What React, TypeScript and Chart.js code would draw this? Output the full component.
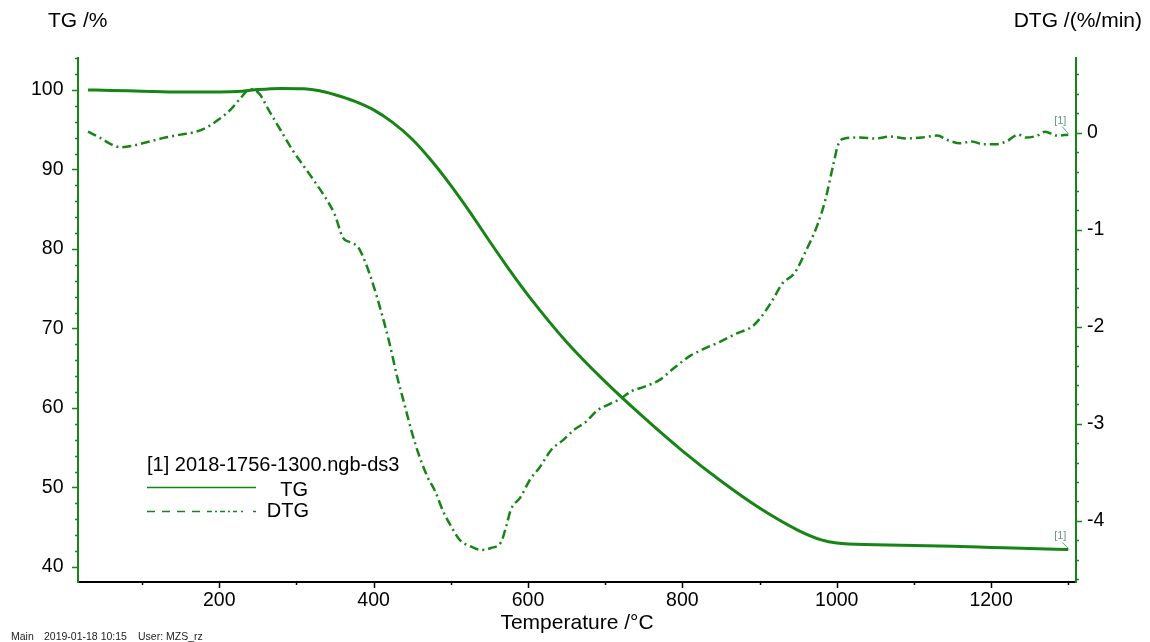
import React, { useEffect, useRef } from 'react';
import { Chart, registerables } from 'chart.js';

Chart.register(...registerables);

const FONT = '"Liberation Sans", Arial, Helvetica, sans-serif';
const GREEN = '#168516';
const MARK = '#5f9e77';

// TG curve (mass %, left axis)
const tgTemp = [30, 60, 100, 150, 200, 230, 250, 280, 310, 330, 350, 375, 400, 425, 450, 475, 500, 525, 550, 575, 600, 650, 700, 750, 800, 850, 900, 950, 980, 1000, 1050, 1100, 1150, 1200, 1250, 1300];
const tgMass = [100.0, 99.95, 99.85, 99.75, 99.75, 99.85, 100.05, 100.2, 100.15, 99.9, 99.4, 98.6, 97.5, 95.9, 93.8, 91.1, 88.0, 84.6, 81.0, 77.5, 74.2, 68.3, 63.3, 58.8, 54.6, 50.8, 47.4, 44.6, 43.4, 43.0, 42.8, 42.7, 42.6, 42.45, 42.3, 42.2];

// DTG curve (%/min, right axis)
const dtgTemp = [30, 45, 60, 72, 90, 110, 130, 150, 170, 185, 200, 215, 228, 240, 252, 265, 280, 295, 310, 325, 340, 350, 360, 370, 380, 390, 400, 410, 420, 430, 440, 450, 460, 470, 480, 490, 500, 512, 525, 540, 552, 565, 572, 578, 590, 603, 615, 630, 645, 660, 675, 690, 705, 720, 735, 750, 770, 790, 810, 830, 850, 870, 890, 900, 915, 930, 945, 960, 975, 985, 995, 1002, 1010, 1030, 1050, 1070, 1090, 1110, 1130, 1145, 1160, 1175, 1190, 1205, 1220, 1235, 1245, 1260, 1270, 1285, 1300];
const dtgRate = [0.01, -0.05, -0.12, -0.15, -0.13, -0.09, -0.05, -0.02, 0.01, 0.06, 0.14, 0.24, 0.36, 0.45, 0.40, 0.22, 0.02, -0.18, -0.35, -0.52, -0.70, -0.85, -1.08, -1.13, -1.18, -1.35, -1.58, -1.85, -2.15, -2.50, -2.80, -3.10, -3.35, -3.55, -3.70, -3.90, -4.05, -4.20, -4.26, -4.30, -4.28, -4.22, -4.05, -3.88, -3.76, -3.57, -3.45, -3.27, -3.17, -3.06, -2.98, -2.86, -2.80, -2.74, -2.66, -2.62, -2.55, -2.42, -2.30, -2.22, -2.15, -2.07, -2.00, -1.92, -1.75, -1.55, -1.45, -1.22, -0.95, -0.70, -0.35, -0.12, -0.06, -0.05, -0.06, -0.04, -0.06, -0.05, -0.03, -0.08, -0.11, -0.09, -0.12, -0.12, -0.09, -0.02, -0.05, -0.03, 0.01, -0.03, -0.02];

const xTickStep = 200;
const leftTickStep = 10;
const rightTickStep = 1;

const legendTitle = '[1] 2018-1756-1300.ngb-ds3';
const footer = ['Main', '2019-01-18 10:15', 'User: MZS_rz'];

const fmt = (v: number) => String(Math.round(v));

const decorPlugin = {
  id: 'decor',
  afterDraw(chart: any) {
    const { ctx, chartArea: ca, scales } = chart;
    const x = scales.x;
    const yl = scales.yTG;
    const yr = scales.yDTG;
    const line = (x1: number, y1: number, x2: number, y2: number) => {
      ctx.beginPath();
      ctx.moveTo(x1, y1);
      ctx.lineTo(x2, y2);
      ctx.stroke();
    };
    ctx.save();
    ctx.lineCap = 'butt';
    // axis lines
    ctx.lineWidth = 2;
    ctx.strokeStyle = '#000';
    line(ca.left, ca.bottom, ca.right, ca.bottom);
    ctx.strokeStyle = GREEN;
    line(ca.left, ca.top, ca.left, ca.bottom + 1);
    line(ca.right, ca.top, ca.right, ca.bottom + 1);
    // x ticks
    ctx.lineWidth = 1.5;
    ctx.strokeStyle = '#000';
    for (let v = 100; v <= 1300; v += 100) {
      const px = Math.round(x.getPixelForValue(v)) + 0.5;
      const len = v % 200 === 0 ? 6 : 3;
      line(px, ca.bottom, px, ca.bottom + len);
    }
    // left ticks
    ctx.strokeStyle = GREEN;
    for (let v = 40; v <= 104; v += 2) {
      const py = Math.round(yl.getPixelForValue(v)) + 0.5;
      const len = v % 10 === 0 ? 6 : 3;
      line(ca.left, py, ca.left - len, py);
    }
    // right ticks
    for (let i = -23; i <= 3; i++) {
      const v = i * 0.2;
      const py = Math.round(yr.getPixelForValue(v)) + 0.5;
      const len = i % 5 === 0 ? 6 : 3;
      line(ca.right, py, ca.right + len, py);
    }

    // axis titles
    ctx.fillStyle = '#000';
    ctx.font = `21px ${FONT}`;
    ctx.textBaseline = 'middle';
    ctx.textAlign = 'left';
    ctx.fillText('TG /%', 48, 21);
    ctx.textAlign = 'right';
    ctx.fillText('DTG /(%/min)', 1142, 21);
    ctx.textAlign = 'center';
    ctx.fillText('Temperature /°C', (ca.left + ca.right) / 2, 623);

    // legend
    ctx.font = `20px ${FONT}`;
    ctx.textAlign = 'left';
    ctx.fillText(legendTitle, 147, 465);
    ctx.textAlign = 'right';
    ctx.fillText('TG', 308, 490);
    ctx.fillText('DTG', 309, 511);
    ctx.strokeStyle = GREEN;
    ctx.lineWidth = 1.6;
    line(147, 487.5, 256, 487.5);
    ctx.setLineDash([8, 7, 8, 7, 8, 7, 8, 7, 5, 3, 2, 3, 5, 3, 2, 3, 4, 4, 2, 10]);
    line(147, 511.5, 256, 511.5);
    ctx.setLineDash([]);

    // end markers [1]
    ctx.font = `11px ${FONT}`;
    ctx.fillStyle = MARK;
    ctx.strokeStyle = MARK;
    ctx.lineWidth = 1;
    ctx.textAlign = 'center';
    chart.data.datasets.forEach((ds: any, i: number) => {
      const meta = chart.getDatasetMeta(i);
      const pt = meta.data[meta.data.length - 1];
      if (!pt) return;
      const dy = i === 0 ? 13 : 14;
      ctx.fillText('[1]', pt.x - 8, pt.y - dy);
      line(pt.x - 6, pt.y - dy + 6, pt.x, pt.y - 1);
    });

    // footer
    ctx.font = `10.5px ${FONT}`;
    ctx.fillStyle = '#222';
    ctx.textAlign = 'left';
    ctx.textBaseline = 'alphabetic';
    ctx.fillText(footer[0], 11, 640);
    ctx.fillText(footer[1], 44, 640);
    ctx.fillText(footer[2], 138, 640);
    ctx.restore();
  },
};

export default function App() {
  const ref = useRef<HTMLCanvasElement | null>(null);
  useEffect(() => {
    if (!ref.current) return;
    const tgData = tgTemp.map((t, i) => ({ x: t, y: tgMass[i] }));
    const dtgData = dtgTemp.map((t, i) => ({ x: t, y: dtgRate[i] }));
    const chart = new Chart(ref.current, {
      type: 'line',
      data: {
        datasets: [
          {
            label: 'TG',
            data: tgData,
            yAxisID: 'yTG',
            borderColor: GREEN,
            borderWidth: 3,
            pointRadius: 0,
            cubicInterpolationMode: 'monotone',
            fill: false,
          },
          {
            label: 'DTG',
            data: dtgData,
            yAxisID: 'yDTG',
            borderColor: GREEN,
            borderWidth: 2.5,
            borderDash: [9, 4, 2, 4],
            pointRadius: 0,
            cubicInterpolationMode: 'monotone',
            fill: false,
          },
        ],
      },
      options: {
        animation: false,
        responsive: false,
        devicePixelRatio: 1,
        parsing: false as any,
        layout: { padding: { left: 0, right: 0, top: 57, bottom: 0 } },
        plugins: {
          legend: { display: false },
          tooltip: { enabled: false },
          title: { display: false },
        },
        scales: {
          x: {
            type: 'linear',
            min: 17,
            max: 1310,
            grid: { display: false, drawTicks: false },
            border: { display: false },
            ticks: {
              stepSize: xTickStep,
              includeBounds: false,
              autoSkip: false,
              maxRotation: 0,
              padding: 7,
              color: '#000',
              font: { family: FONT, size: 19.5 },
              callback: (v: any) => fmt(Number(v)),
            },
            afterFit: (s: any) => {
              s.height = 60;
            },
          },
          yTG: {
            type: 'linear',
            position: 'left',
            min: 38.1,
            max: 104.15,
            grid: { display: false, drawTicks: false },
            border: { display: false },
            ticks: {
              stepSize: leftTickStep,
              includeBounds: false,
              autoSkip: false,
              padding: 14.5,
              color: '#000',
              font: { family: FONT, size: 19.5 },
              callback: (v: any) => fmt(Number(v)),
            },
            afterFit: (s: any) => {
              s.width = 78;
            },
          },
          yDTG: {
            type: 'linear',
            position: 'right',
            min: -4.63,
            max: 0.78,
            grid: { display: false, drawTicks: false },
            border: { display: false },
            ticks: {
              stepSize: rightTickStep,
              includeBounds: false,
              autoSkip: false,
              padding: 11,
              color: '#000',
              font: { family: FONT, size: 19.5 },
              callback: (v: any) => fmt(Number(v)),
            },
            afterFit: (s: any) => {
              s.width = 74;
            },
          },
        },
      },
      plugins: [decorPlugin],
    });
    return () => chart.destroy();
  }, []);
  return (
    <div style={{ position: 'absolute', left: 0, top: 0, width: 1150, height: 642, background: '#fff' }}>
      <canvas ref={ref} width={1150} height={642} style={{ display: 'block' }} />
    </div>
  );
}
